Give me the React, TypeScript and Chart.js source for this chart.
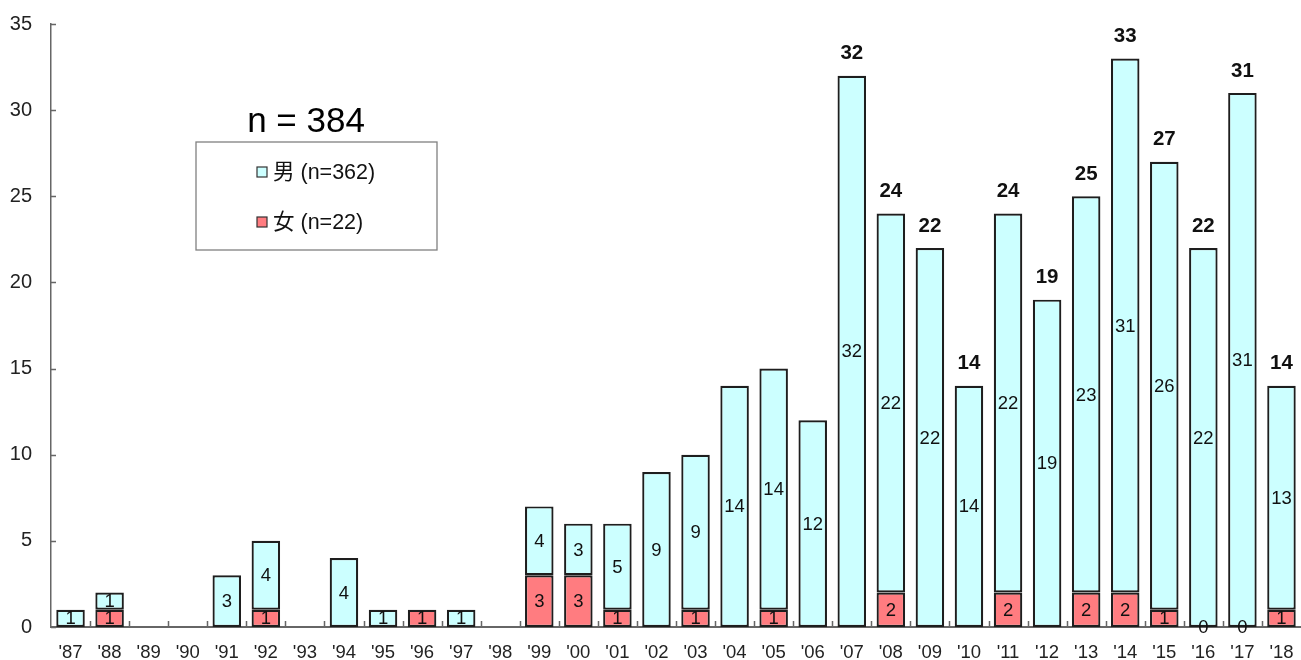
import React, { useEffect, useRef } from "react";
import { Chart, registerables } from "chart.js";

Chart.register(...registerables);

// Yearly counts, 1987–2018
const years = [
  "'87", "'88", "'89", "'90", "'91", "'92", "'93", "'94", "'95", "'96", "'97", "'98",
  "'99", "'00", "'01", "'02", "'03", "'04", "'05", "'06", "'07", "'08", "'09", "'10",
  "'11", "'12", "'13", "'14", "'15", "'16", "'17", "'18",
];

// 男 (male) — null where there are no cases
const maleCounts: (number | null)[] = [
  1, 1, null, null, 3, 4, null, 4, 1, null, 1, null,
  4, 3, 5, 9, 9, 14, 14, 12, 32, 22, 22, 14,
  22, 19, 23, 31, 26, 22, 31, 13,
];

// 女 (female) — null where not recorded, 0 where explicitly zero
const femaleCounts: (number | null)[] = [
  null, 1, null, null, null, 1, null, null, null, 1, null, null,
  3, 3, 1, null, 1, null, 1, null, null, 2, null, null,
  2, null, 2, 2, 1, 0, 0, 1,
];

// Yearly totals are printed above the bars from this year on
const totalsFromYear = "'07";

const yTicks = [0, 5, 10, 15, 20, 25, 30, 35];

const MALE_COLOR = "#CCFFFF";
const FEMALE_COLOR = "#FF7C80";
const BAR_BORDER = "#1e1e1e";
const AXIS_COLOR = "#666666";
const FONT = "'Liberation Sans', Arial, 'Noto Sans CJK JP', sans-serif";

const sum = (a: (number | null)[]) => a.reduce<number>((s, v) => s + (v ?? 0), 0);

export default function App() {
  const canvasRef = useRef<HTMLCanvasElement | null>(null);

  useEffect(() => {
    document.body.style.margin = "0";
    const canvas = canvasRef.current;
    if (!canvas) return;

    const maleTotal = sum(maleCounts);
    const femaleTotal = sum(femaleCounts);
    const grandTotal = maleTotal + femaleTotal;
    const totalsStart = years.indexOf(totalsFromYear);

    // Inward tick marks on both axes
    const axisTicks = {
      id: "axisTicks",
      afterDatasetsDraw(chart: any) {
        const { ctx, chartArea, scales } = chart;
        const y = scales.y;
        const x = scales.x;
        ctx.save();
        ctx.strokeStyle = AXIS_COLOR;
        ctx.lineWidth = 1.5;
        ctx.beginPath();
        for (const v of yTicks) {
          const py = Math.round(y.getPixelForValue(v)) + 0.5;
          ctx.moveTo(chartArea.left, py);
          ctx.lineTo(chartArea.left + 5, py);
        }
        const step = (chartArea.right - chartArea.left) / years.length;
        for (let i = 1; i < years.length; i++) {
          const px = Math.round(x.getPixelForValue(i) - step / 2) + 0.5;
          ctx.moveTo(px, chartArea.bottom);
          ctx.lineTo(px, chartArea.bottom - 6);
        }
        ctx.stroke();
        ctx.restore();
      },
    };

    // Value labels inside segments and totals above stacks
    const valueLabels = {
      id: "valueLabels",
      afterDatasetsDraw(chart: any) {
        const { ctx } = chart;
        ctx.save();
        ctx.textAlign = "center";
        ctx.textBaseline = "middle";
        ctx.fillStyle = "#111111";
        ctx.font = `18.5px ${FONT}`;
        [0, 1].forEach((di) => {
          const meta = chart.getDatasetMeta(di);
          const values = chart.data.datasets[di].data as (number | null)[];
          meta.data.forEach((el: any, i: number) => {
            const v = values[i];
            if (v === null || v === undefined) return;
            if (di === 1 && v === 0) return;
            const cy = (el.y + el.base) / 2;
            ctx.fillText(String(v), el.x, cy + 1);
          });
        });
        ctx.font = `bold 20.5px ${FONT}`;
        const topMeta = chart.getDatasetMeta(1);
        topMeta.data.forEach((el: any, i: number) => {
          if (i < totalsStart) return;
          const total = (maleCounts[i] ?? 0) + (femaleCounts[i] ?? 0);
          const top = chart.scales.y.getPixelForValue(total);
          ctx.fillText(String(total), el.x, top - 22);
        });
        ctx.restore();
      },
    };

    // Title and boxed legend in the upper left
    const legendBox = {
      id: "legendBox",
      afterDraw(chart: any) {
        const { ctx } = chart;
        ctx.save();
        ctx.fillStyle = "#000000";
        ctx.textAlign = "center";
        ctx.textBaseline = "alphabetic";
        ctx.font = `35px ${FONT}`;
        ctx.fillText(`n = ${grandTotal}`, 306, 132);

        ctx.strokeStyle = "#808080";
        ctx.lineWidth = 1.3;
        ctx.strokeRect(196, 142, 241, 108);

        const items = [
          { color: MALE_COLOR, text: `男 (n=${maleTotal})`, y: 172 },
          { color: FEMALE_COLOR, text: `女 (n=${femaleTotal})`, y: 222 },
        ];
        ctx.textAlign = "left";
        ctx.textBaseline = "middle";
        ctx.font = `21.5px ${FONT}`;
        for (const it of items) {
          ctx.fillStyle = it.color;
          ctx.fillRect(257, it.y - 5, 10, 10);
          ctx.strokeStyle = "#333333";
          ctx.lineWidth = 1.2;
          ctx.strokeRect(257, it.y - 5, 10, 10);
          ctx.fillStyle = "#111111";
          ctx.fillText(it.text, 273, it.y + 1);
        }
        ctx.restore();
      },
    };

    const chart = new Chart(canvas, {
      type: "bar",
      data: {
        labels: years,
        datasets: [
          {
            label: "女",
            data: femaleCounts,
            backgroundColor: FEMALE_COLOR,
            borderColor: BAR_BORDER,
            borderWidth: 2.2,
            borderSkipped: false,
            barPercentage: 0.73,
            categoryPercentage: 1,
          },
          {
            label: "男",
            data: maleCounts,
            backgroundColor: MALE_COLOR,
            borderColor: BAR_BORDER,
            borderWidth: 2.2,
            borderSkipped: false,
            barPercentage: 0.73,
            categoryPercentage: 1,
          },
        ],
      },
      options: {
        responsive: false,
        animation: false,
        layout: { padding: { left: 0, right: 0, top: 24, bottom: 0 } },
        plugins: {
          legend: { display: false },
          tooltip: { enabled: false },
          title: { display: false },
        },
        scales: {
          x: {
            stacked: true,
            offset: true,
            grid: { display: false, drawTicks: false },
            border: { display: true, color: AXIS_COLOR, width: 2 },
            ticks: {
              color: "#222222",
              font: { family: FONT, size: 18.5 },
              padding: 15,
              maxRotation: 0,
              autoSkip: false,
            },
            afterFit(scale: any) {
              scale.height = 33;
              scale.paddingLeft = 0;
              scale.paddingRight = 0;
            },
          },
          y: {
            stacked: true,
            min: 0,
            max: 35,
            grid: { display: false, drawTicks: false },
            border: { display: true, color: AXIS_COLOR, width: 1.5 },
            afterBuildTicks(scale: any) {
              scale.ticks = yTicks.map((v) => ({ value: v }));
            },
            ticks: {
              color: "#222222",
              font: { family: FONT, size: 20 },
              padding: 19,
            },
            afterFit(scale: any) {
              scale.width = 51;
              scale.paddingTop = 0;
              scale.paddingBottom = 0;
            },
          },
        },
      },
      plugins: [axisTicks, valueLabels, legendBox],
    });

    return () => chart.destroy();
  }, []);

  return (
    <div style={{ width: 1301, height: 660, background: "#ffffff" }}>
      <canvas ref={canvasRef} width={1301} height={660} style={{ display: "block" }} />
    </div>
  );
}
